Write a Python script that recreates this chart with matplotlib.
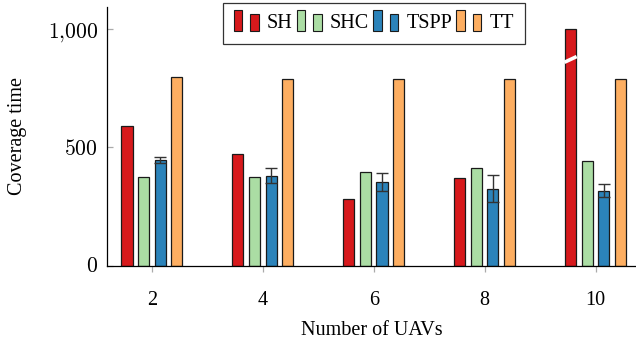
import matplotlib
matplotlib.use("Agg")
import matplotlib.pyplot as plt
import numpy as np
from matplotlib.patches import Rectangle
from matplotlib.legend_handler import HandlerBase
from matplotlib.ticker import FuncFormatter

plt.rcParams['font.family'] = ['Liberation Serif', 'DejaVu Serif']
plt.rcParams['mathtext.fontset'] = 'cm'

uavs = [2, 4, 6, 8, 10]
series = ['SH', 'SHC', 'TSPP', 'TT']
sh = [592, 472, 283, 369, 1000]
shc = [373, 375, 398, 411, 441]
tspp = [446, 381, 354, 326, 317]
tspp_err = [12, 33, 38, 57, 28]
tt = [800, 789, 789, 789, 789]
colors = ['#d7191c', '#abdda4', '#2b83ba', '#fdae61']
break_value = 873

fig = plt.figure(figsize=(6.36, 3.41), dpi=100)
ax = fig.add_axes([107/636, 1-265.5/341, 529/636, (265.5-7)/341])

x = np.array(uavs, dtype=float)
width = 0.2
offsets = [-0.45, -0.15, 0.15, 0.45]
vals = [sh, shc, tspp, tt]
for i, (v, c) in enumerate(zip(vals, colors)):
    if series[i] == 'TSPP':
        ax.bar(x + offsets[i], v, width, color=c, edgecolor='#1a1a1a', linewidth=0.9,
               yerr=tspp_err, capsize=4.5,
               error_kw=dict(ecolor='#333333', elinewidth=1.0, capthick=1.0), zorder=2)
    else:
        ax.bar(x + offsets[i], v, width, color=c, edgecolor='#1a1a1a', linewidth=0.9, zorder=2)

# break marker on the truncated SH bar
bx = x[-1] + offsets[0]
ax.plot([bx - width*0.55, bx + width*0.55], [break_value - 12, break_value + 12],
        color='white', lw=2.6, zorder=3, solid_capstyle='butt')

ax.set_xlim(1.19, 10.73)
ax.set_ylim(0, 1095)
ax.set_xticks(uavs)
ax.set_yticks([0, 500, 1000])

def yfmt(v, pos):
    v = int(round(v))
    if v >= 1000:
        return r'$%d{,}%03d$' % (v // 1000, v % 1000)
    return r'$%d$' % v
ax.yaxis.set_major_formatter(FuncFormatter(yfmt))

ax.spines['top'].set_visible(False)
ax.spines['right'].set_visible(False)
ax.spines['left'].set_linewidth(0.9)
ax.spines['bottom'].set_linewidth(0.9)
ax.tick_params(axis='y', direction='in', length=4, color='#aaaaaa', width=0.9,
               labelsize=15.5, pad=6.5)
ax.tick_params(axis='x', direction='out', length=4, color='#aaaaaa', width=0.9,
               labelsize=14.5, pad=14.5)
ax.set_xlabel('Number of UAVs', fontsize=14.5, labelpad=7.5)
ax.set_ylabel('Coverage time', fontsize=14.5, labelpad=15)


class TwoBarHandler(HandlerBase):
    def __init__(self, color):
        super().__init__()
        self.color = color

    def create_artists(self, legend, orig_handle, xdescent, ydescent, width, height, fontsize, trans):
        w = width * 0.3
        r1 = Rectangle((-xdescent, -ydescent - height*0.2), w, height*1.5,
                       facecolor=self.color, edgecolor='#1a1a1a', lw=0.8, transform=trans)
        r2 = Rectangle((-xdescent + width*0.58, -ydescent - height*0.2), w, height*1.2,
                       facecolor=self.color, edgecolor='#1a1a1a', lw=0.8, transform=trans)
        return [r1, r2]

handles = [Rectangle((0, 0), 1, 1, facecolor=c) for c in colors]
handler_map = {h: TwoBarHandler(c) for h, c in zip(handles, colors)}
leg = fig.legend(handles, series, handler_map=handler_map, loc='upper center',
                 bbox_to_anchor=(374/636, 1 - 3/341), ncol=4, frameon=True,
                 fancybox=False, edgecolor='black', fontsize=14.5,
                 handlelength=1.4, handletextpad=0.25, columnspacing=0.2,
                 borderpad=0.55, borderaxespad=0)
leg.get_frame().set_linewidth(0.9)

fig.savefig('out.png', dpi=100)
